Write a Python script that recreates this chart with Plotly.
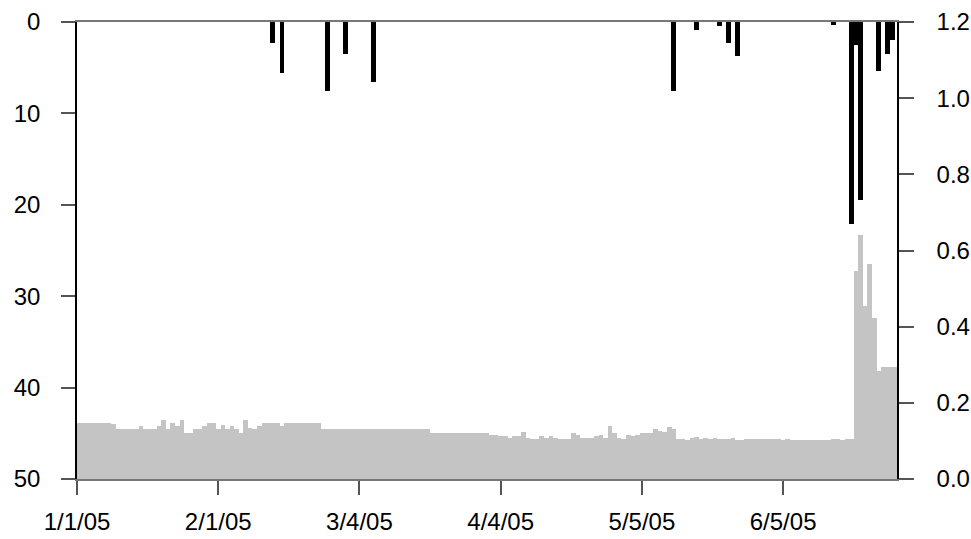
import pandas as pd
import plotly.graph_objects as go

# Daily discharge (right axis), 1 Jan 2005 - 30 Jun 2005
dates = pd.date_range("2005-01-01", "2005-06-30", freq="D")
discharge = [
    0.148, 0.148, 0.148, 0.148, 0.148, 0.148, 0.148, 0.148, 0.144, 0.131,
    0.131, 0.131, 0.131, 0.131, 0.139, 0.131, 0.131, 0.131, 0.139, 0.155,
    0.131, 0.148, 0.139, 0.155, 0.122, 0.122, 0.131, 0.131, 0.139, 0.148,
    0.148, 0.131, 0.142, 0.131, 0.139, 0.131, 0.122, 0.155, 0.135, 0.131,
    0.139, 0.148, 0.148, 0.148, 0.148, 0.139, 0.148, 0.148, 0.148, 0.148,
    0.148, 0.148, 0.148, 0.148, 0.131, 0.131, 0.131, 0.131, 0.131, 0.131,
    0.131, 0.131, 0.131, 0.131, 0.131, 0.131, 0.131, 0.131, 0.131, 0.131,
    0.131, 0.131, 0.131, 0.131, 0.131, 0.131, 0.131, 0.131, 0.122, 0.122,
    0.122, 0.122, 0.122, 0.122, 0.122, 0.122, 0.122, 0.122, 0.122, 0.122,
    0.122, 0.116, 0.116, 0.113, 0.113, 0.108, 0.113, 0.113, 0.123, 0.108,
    0.105, 0.105, 0.113, 0.108, 0.113, 0.108, 0.105, 0.105, 0.105, 0.121,
    0.116, 0.108, 0.108, 0.108, 0.113, 0.116, 0.108, 0.139, 0.121, 0.108,
    0.105, 0.116, 0.113, 0.116, 0.121, 0.121, 0.121, 0.131, 0.126, 0.123,
    0.137, 0.131, 0.105, 0.105, 0.102, 0.108, 0.110, 0.105, 0.108, 0.105,
    0.108, 0.105, 0.105, 0.105, 0.108, 0.102, 0.102, 0.105, 0.105, 0.105,
    0.105, 0.105, 0.105, 0.105, 0.105, 0.102, 0.105, 0.102, 0.102, 0.102,
    0.102, 0.102, 0.102, 0.102, 0.102, 0.102, 0.105, 0.105, 0.102, 0.105,
    0.105, 0.546, 0.641, 0.454, 0.565, 0.423, 0.284, 0.295, 0.295, 0.295,
    0.295,
]

# Daily precipitation (left axis, inverted)
rain_dates = [
    "2005-02-13", "2005-02-15", "2005-02-25", "2005-03-01", "2005-03-07",
    "2005-05-12", "2005-05-17", "2005-05-22", "2005-05-24", "2005-05-26",
    "2005-06-16", "2005-06-20", "2005-06-21", "2005-06-22", "2005-06-26",
    "2005-06-28", "2005-06-29",
]
rain = [
    2.3, 5.6, 7.6, 3.5, 6.6,
    7.6, 0.9, 0.4, 2.3, 3.7,
    0.3, 22.1, 2.5, 19.5, 5.4,
    3.5, 2.0,
]

x_tickvals = ["2005-01-01", "2005-02-01", "2005-03-04", "2005-04-04", "2005-05-05", "2005-06-05"]
x_ticktext = ["1/1/05", "2/1/05", "3/4/05", "4/4/05", "5/5/05", "6/5/05"]
left_ticks = [0, 10, 20, 30, 40, 50]
right_ticks = [0.0, 0.2, 0.4, 0.6, 0.8, 1.0, 1.2]

DAY = 86400000

fig = go.Figure()
fig.add_trace(go.Bar(
    x=dates, y=discharge, yaxis="y2", width=DAY,
    marker=dict(color="#c4c4c4", line=dict(width=0)),
    name="Discharge",
))
fig.add_trace(go.Bar(
    x=rain_dates, y=rain, yaxis="y", width=DAY * 1.08,
    marker=dict(color="#000000", line=dict(width=0)),
    name="Precipitation",
))

fnt = dict(family="Liberation Sans, Arial, sans-serif", size=24, color="#000")

fig.update_layout(
    width=971, height=539,
    margin=dict(l=77, r=74, t=22, b=60, autoexpand=False),
    paper_bgcolor="white", plot_bgcolor="white",
    barmode="overlay", bargap=0,
    showlegend=False,
    font=fnt,
    xaxis=dict(
        type="date",
        range=["2005-01-01", "2005-06-30"],
        tickvals=x_tickvals, ticktext=x_ticktext,
        ticks="outside", ticklen=14, tickwidth=1.5, tickcolor="#555",
        showline=True, linecolor="#777", linewidth=2, mirror=True,
        showgrid=False, zeroline=False,
        ticklabelstandoff=6,
        tickfont=fnt,
    ),
    yaxis=dict(
        range=[50, 0],
        tickvals=left_ticks,
        ticks="outside", ticklen=14, tickwidth=1.5, tickcolor="#555",
        showline=True, linecolor="#000", linewidth=1.5,
        showgrid=False, zeroline=False,
        ticklabelstandoff=16,
        tickfont=fnt,
    ),
    yaxis2=dict(
        range=[0, 1.2],
        tickvals=right_ticks, tickformat=".1f",
        overlaying="y", side="right",
        ticks="outside", ticklen=15, tickwidth=1.5, tickcolor="#555",
        showline=True, linecolor="#000", linewidth=1.5,
        showgrid=False, zeroline=False,
        ticklabelstandoff=18,
        tickfont=fnt,
    ),
)

fig.write_html(
    "out.html",
    config={"displayModeBar": False},
    post_script="document.body.style.margin='0px';document.body.style.padding='0px';document.body.style.overflow='hidden';",
)
